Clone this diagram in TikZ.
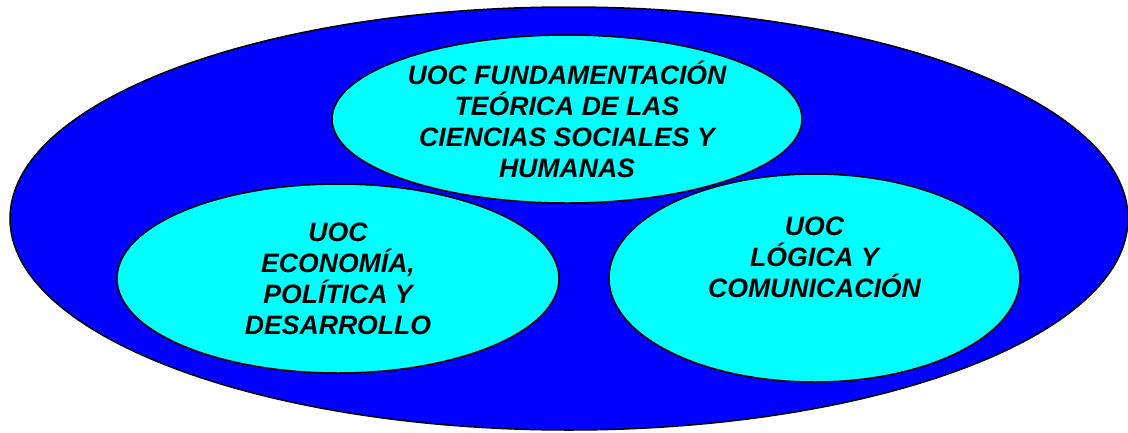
\documentclass[tikz,border=0pt]{standalone}
\usepackage{fontspec}
\setmainfont{Liberation Sans}
\usepackage{tikz}
\usetikzlibrary{shapes.geometric}
\definecolor{mblue}{rgb}{0, 0, 1}
\definecolor{mcyan}{rgb}{0, 1, 1}
\tikzset{uoc/.style = {ellipse, draw, line width=1.5pt, fill=mcyan, inner sep=0pt, align=center,
                       font=\fontsize{26.6}{31}\selectfont\bfseries\itshape}}

\begin{document}
\begin{tikzpicture}[x=1pt, y=-1pt]
    \useasboundingbox (0, 0) rectangle (1128, 432);
    \node [ellipse, draw, line width=1.5pt, fill=mblue, minimum width=1118pt, minimum height=423pt] (area) at (569, 218.5) {};

    \node [uoc, minimum width=442pt, minimum height=189pt] (econ) at (338, 278.5) {UOC\\ECONOMÍA,\\POLÍTICA Y\\DESARROLLO};
    \node [uoc, minimum width=411pt, minimum height=208pt] (logic) at (814.5, 278) {UOC\\LÓGICA Y\\COMUNICACIÓN\\[10pt]\mbox{}};
    \node [uoc, minimum width=470pt, minimum height=168pt] (theory) at (567, 119) {UOC FUNDAMENTACIÓN\\TEÓRICA DE LAS\\CIENCIAS SOCIALES Y\\HUMANAS};
  \end{tikzpicture}
\end{document}
